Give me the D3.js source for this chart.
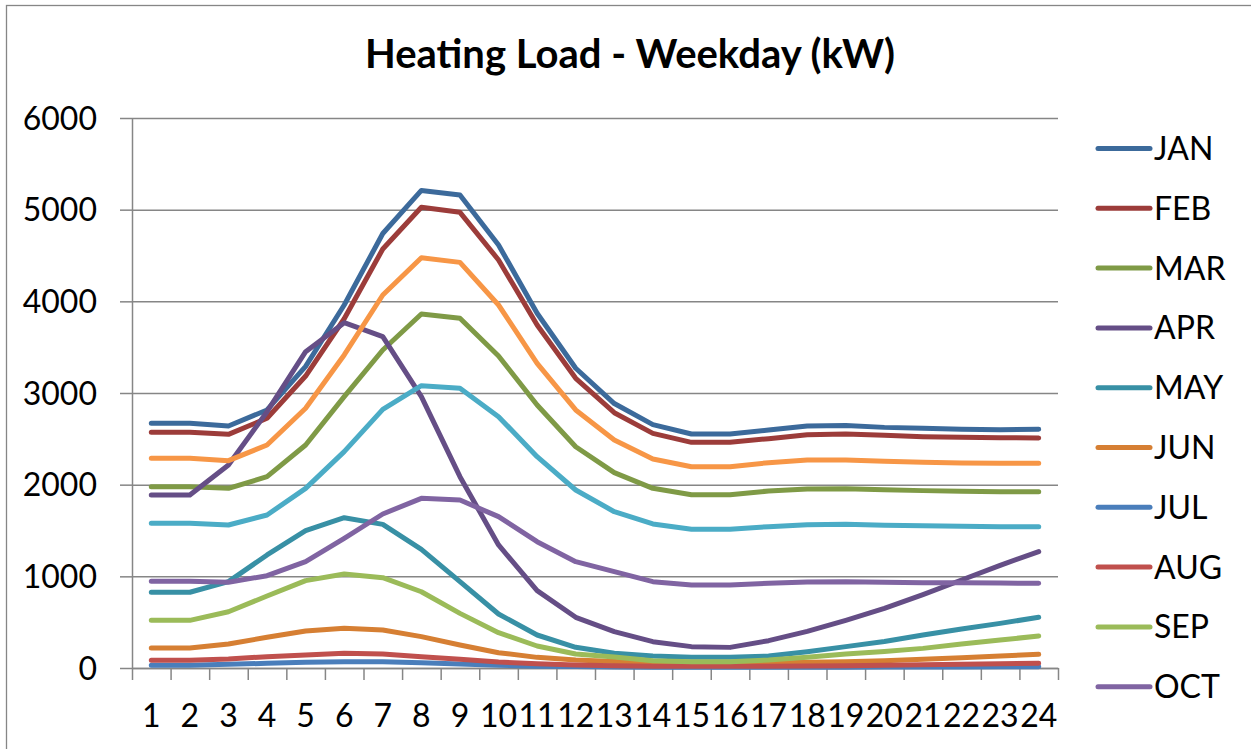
<html>
<head>
<script src="https://cdn.jsdelivr.net/npm/d3@7"></script>
<style>
  body { margin: 0; background: #fff; }
  text { font-family: Lato, "Open Sans", sans-serif; fill: #000; }
</style>
</head>
<body>
<div id="chart"></div>
<script>
const hours = d3.range(1, 25);
const months = ["JAN", "FEB", "MAR", "APR", "MAY", "JUN", "JUL", "AUG", "SEP", "OCT", "NOV", "DEC"];
const legendMonths = ["JAN", "FEB", "MAR", "APR", "MAY", "JUN", "JUL", "AUG", "SEP", "OCT"];
const yTicks = [0, 1000, 2000, 3000, 4000, 5000, 6000];

const jan = [2670, 2670, 2640, 2815, 3290, 3960, 4740, 5210, 5160, 4615, 3870, 3270, 2885, 2655, 2553, 2553, 2596, 2640, 2645, 2625, 2615, 2604, 2600, 2604];
const feb = [2571, 2571, 2549, 2724, 3185, 3810, 4571, 5026, 4971, 4451, 3742, 3160, 2785, 2560, 2462, 2462, 2502, 2545, 2553, 2538, 2524, 2516, 2513, 2509];
const mar = [1978, 1978, 1960, 2087, 2433, 2960, 3469, 3862, 3815, 3404, 2869, 2414, 2131, 1960, 1891, 1891, 1931, 1953, 1956, 1945, 1935, 1927, 1924, 1924];
const apr = [1887, 1887, 2215, 2796, 3451, 3767, 3615, 2960, 2087, 1342, 844, 553, 396, 287, 233, 225, 298, 400, 520, 650, 800, 960, 1120, 1270];
const may = [826, 826, 942, 1233, 1498, 1640, 1567, 1295, 942, 589, 360, 226, 160, 131, 116, 116, 131, 178, 233, 290, 360, 425, 487, 553];
const jun = [218, 218, 262, 335, 404, 433, 415, 342, 251, 167, 116, 87, 70, 60, 52, 52, 55, 62, 69, 80, 95, 112, 130, 149];
const jul = [29, 29, 40, 51, 62, 69, 69, 58, 44, 29, 20, 15, 10, 8, 7, 7, 7, 8, 9, 10, 11, 12, 14, 15];
const aug = [84, 84, 98, 124, 142, 160, 153, 124, 95, 65, 47, 33, 25, 20, 18, 18, 20, 22, 25, 30, 35, 40, 46, 51];
const sep = [520, 520, 614, 785, 953, 1025, 985, 832, 596, 385, 240, 153, 121, 80, 69, 69, 87, 116, 153, 180, 214, 262, 305, 349];
const oct = [946, 946, 935, 1007, 1160, 1415, 1680, 1851, 1833, 1651, 1378, 1160, 1051, 942, 906, 906, 924, 938, 942, 935, 931, 929, 927, 924];
const nov = [1578, 1578, 1560, 1669, 1960, 2360, 2822, 3080, 3051, 2742, 2305, 1942, 1705, 1571, 1513, 1513, 1542, 1564, 1567, 1556, 1553, 1546, 1542, 1542];
const dec = [2287, 2287, 2262, 2433, 2833, 3415, 4069, 4476, 4425, 3960, 3324, 2815, 2487, 2280, 2196, 2196, 2240, 2269, 2269, 2255, 2244, 2236, 2233, 2233];

const colors = [
  "#3c6a9b", // jan
  "#9c3c3a", // feb
  "#7f9a46", // mar
  "#654e86", // apr
  "#3890a5", // may
  "#d67f33", // jun
  "#4a7ebb", // jul
  "#c0504d", // aug
  "#9bbb59", // sep
  "#8064a2", // oct
  "#4bacc6", // nov
  "#f79646", // dec
];

const series = [jan, feb, mar, apr, may, jun, jul, aug, sep, oct, nov, dec]
  .map((values, i) => ({ name: months[i], values, color: colors[i] }));

const w = 1251;
const h = 749;
const plotLeft = 132, plotRight = 1058, plotTop = 118, plotBottom = 668;

const svg = d3.select("#chart").append("svg")
  .attr("width", w)
  .attr("height", h);

// chart frame
svg.append("rect")
  .attr("x", 6.5).attr("y", 5.5)
  .attr("width", w + 10).attr("height", h + 10)
  .attr("fill", "none")
  .attr("stroke", "#868686")
  .attr("stroke-width", 1.3);

svg.append("text")
  .attr("x", 630).attr("y", 68)
  .attr("text-anchor", "middle")
  .style("font-size", "40px")
  .style("font-weight", "bold")
  .text("Heating Load - Weekday (kW)");

const x = d3.scaleBand().domain(hours).range([plotLeft, plotRight]).padding(0);
const xEdge = d3.scaleLinear().domain([0, 24]).range([plotLeft, plotRight]);
const y = d3.scaleLinear().domain([0, 6000]).range([plotBottom, plotTop]);

// gridlines
svg.append("g")
  .attr("transform", `translate(${plotLeft},0)`)
  .call(d3.axisLeft(y).tickValues(yTicks).tickSize(-(plotRight - plotLeft)).tickFormat(""))
  .call((g) => g.select(".domain").remove())
  .call((g) => g.selectAll("line").attr("stroke", "#868686").attr("stroke-width", 1.5));

// y axis
const yAxis = svg.append("g")
  .attr("transform", `translate(${plotLeft},0)`)
  .call(d3.axisLeft(y).tickValues(yTicks).tickFormat(d3.format("d")).tickSize(12).tickPadding(23).tickSizeOuter(0));
yAxis.select(".domain").attr("stroke", "#868686").attr("stroke-width", 1.5);
yAxis.selectAll("line").attr("stroke", "#868686").attr("stroke-width", 1.5);
yAxis.selectAll("text").style("font-size", "32px").attr("dy", "0.35em");

// x axis tick marks at category edges
const xTicks = svg.append("g")
  .attr("transform", `translate(0,${plotBottom})`)
  .call(d3.axisBottom(xEdge).tickValues(d3.range(25)).tickSize(12).tickFormat("").tickSizeOuter(0));
xTicks.select(".domain").attr("stroke", "#868686").attr("stroke-width", 1.5);
xTicks.selectAll("line").attr("stroke", "#868686").attr("stroke-width", 1.5);

// x labels
const xLabels = svg.append("g")
  .attr("transform", `translate(0,${plotBottom})`)
  .call(d3.axisBottom(x).tickSize(0).tickPadding(36));
xLabels.select(".domain").remove();
xLabels.selectAll("text").style("font-size", "32px");

const line = d3.line()
  .x((d, i) => x(hours[i]) + x.bandwidth() / 2)
  .y((d) => y(d));

svg.append("g")
  .selectAll("path")
  .data(series)
  .enter()
  .append("path")
  .attr("d", (d) => line(d.values))
  .attr("fill", "none")
  .attr("stroke", (d) => d.color)
  .attr("stroke-width", 5)
  .attr("stroke-linejoin", "round")
  .attr("stroke-linecap", "round");

// legend
const legend = svg.append("g")
  .selectAll("g")
  .data(series.filter((s) => legendMonths.includes(s.name)))
  .enter()
  .append("g")
  .attr("transform", (d, i) => `translate(0,${148.5 + i * 59.8})`);

legend.append("line")
  .attr("x1", 1098).attr("x2", 1150)
  .attr("stroke", (d) => d.color)
  .attr("stroke-width", 5)
  .attr("stroke-linecap", "round");

legend.append("text")
  .attr("x", 1154)
  .attr("dy", "0.36em")
  .style("font-size", "32px")
  .text((d) => d.name);
</script>
</body>
</html>
